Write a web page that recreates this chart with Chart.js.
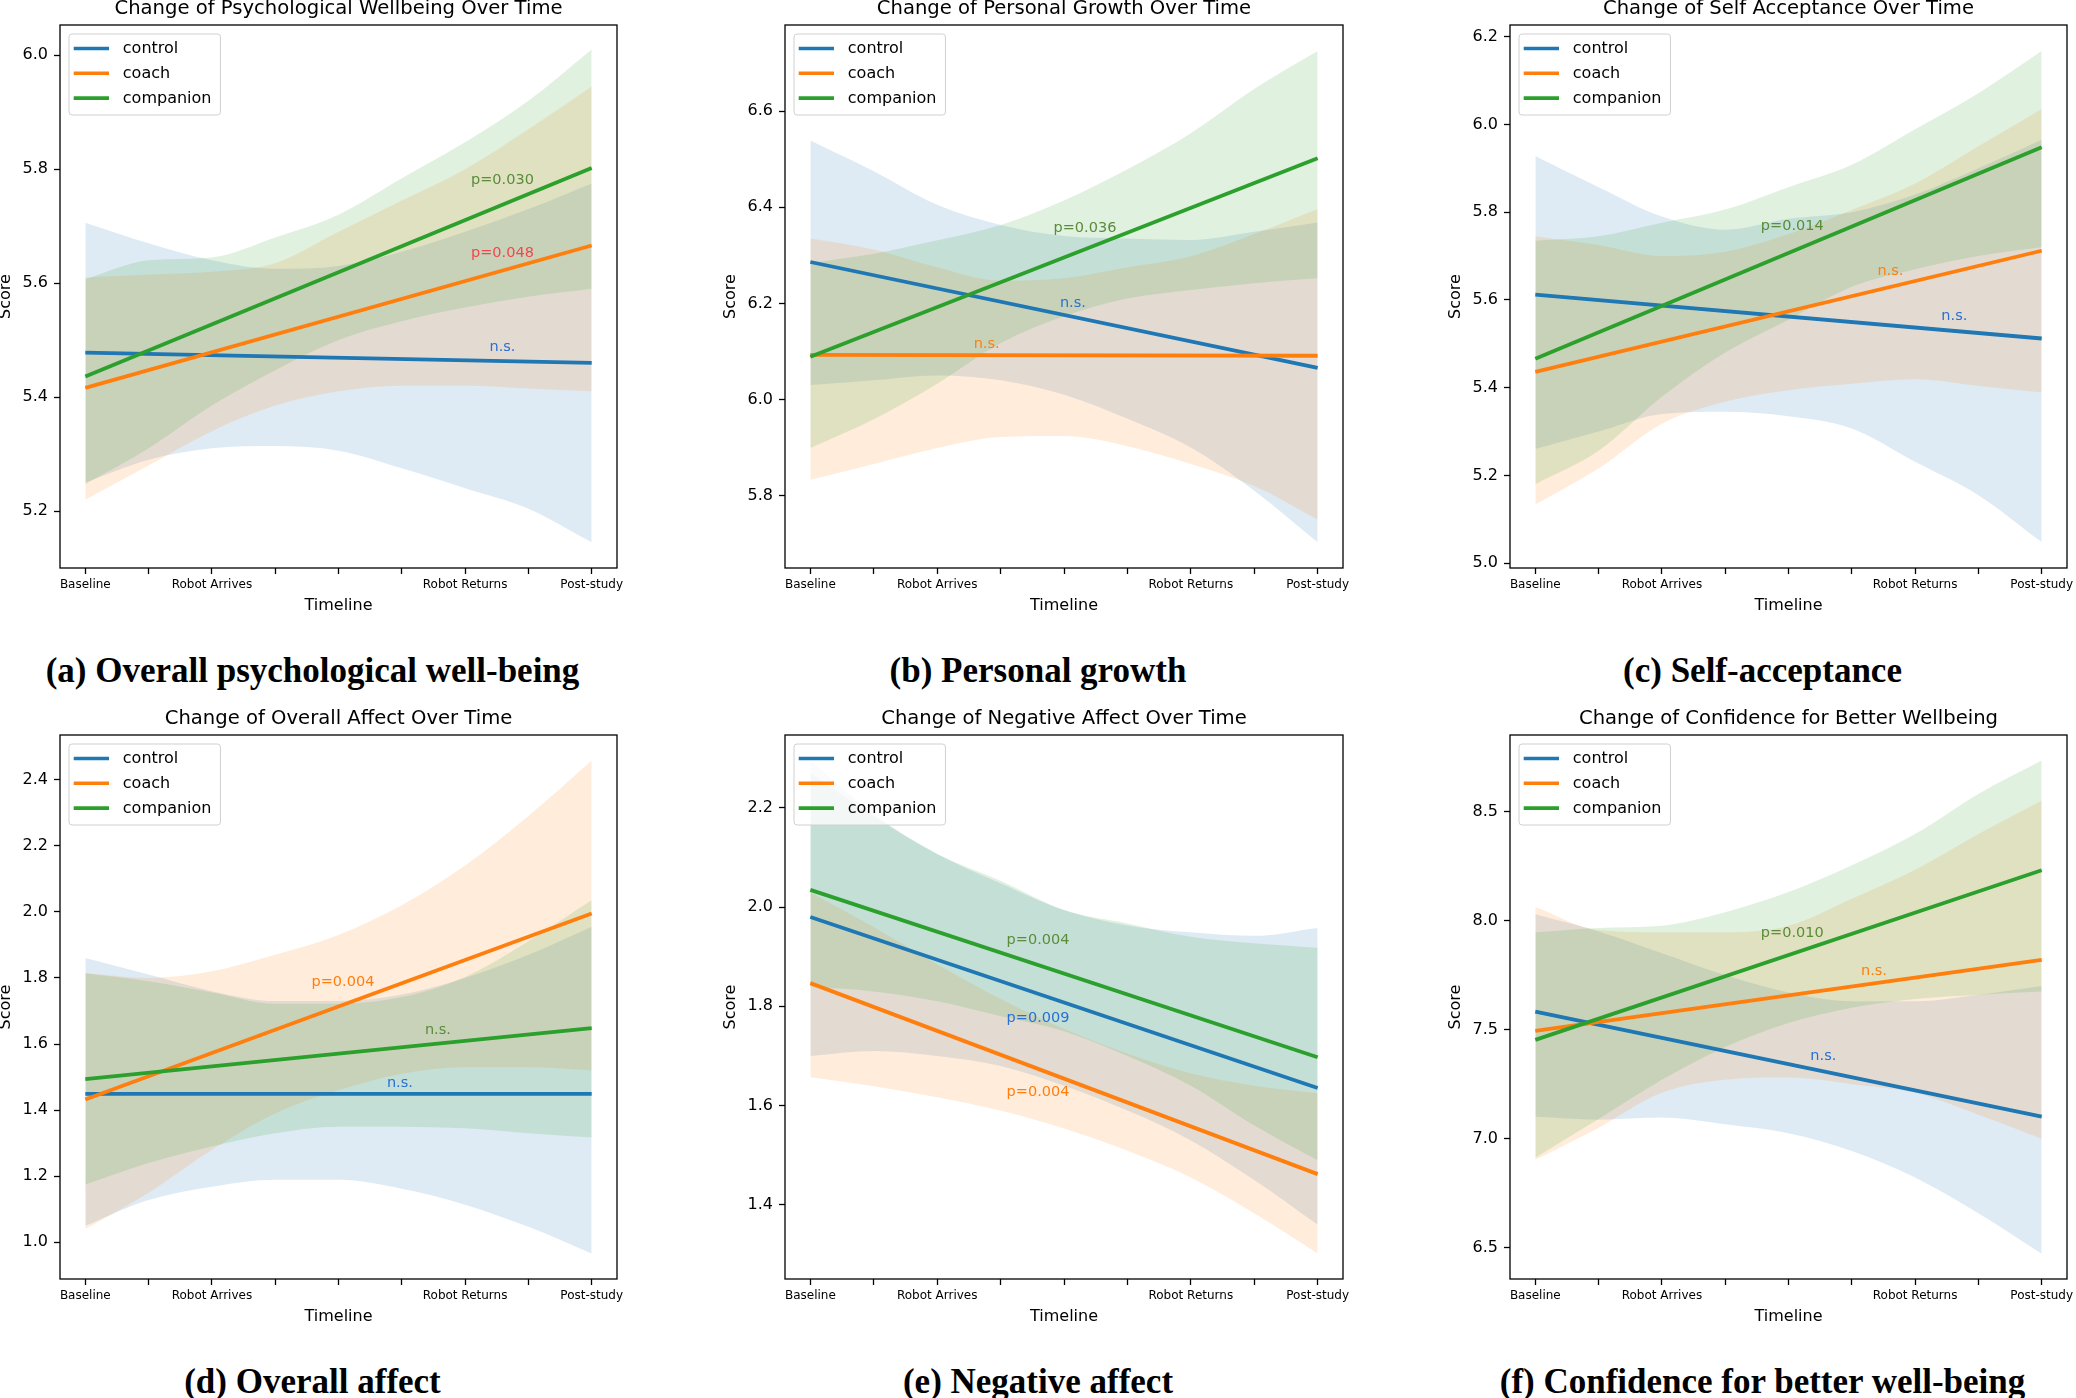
<!DOCTYPE html>
<html>
<head>
<meta charset="utf-8">
<script src="https://cdn.jsdelivr.net/npm/chart.js@4.4.1/dist/chart.umd.min.js"></script>
<style>
  html, body { margin: 0; padding: 0; background: #fff; }
  #page { position: relative; width: 2076px; height: 1398px; overflow: hidden; background: #fff; }
  #page canvas { position: absolute; }
  .caption {
    position: absolute; width: 800px; text-align: center; white-space: nowrap;
    font-family: 'Liberation Serif', 'Times New Roman', serif; font-weight: bold;
    font-size: 35px; line-height: 35px; color: #000;
  }
</style>
</head>
<body>
<div id="page"></div>
<script>
// shared axis stuff
const timepoints = [0, 1, 2, 3, 4, 5, 6, 7, 8];
const lineX = [0, 8];
const xTickLabels = ['Baseline', '', 'Robot Arrives', '', '', '', 'Robot Returns', '', 'Post-study'];
const groups = ['control', 'coach', 'companion'];

// (a) psychological wellbeing
const aYRange = [5.100, 6.053];
const aYTicks = [5.2, 5.4, 5.6, 5.8, 6.0];
const aControlLine = [5.478, 5.460];
const aCoachLine = [5.416, 5.666];
const aCompanionLine = [5.436, 5.802];
const aControlHi = [5.706, 5.67, 5.64, 5.625, 5.63, 5.655, 5.69, 5.73, 5.775];
const aControlLo = [5.25, 5.29, 5.31, 5.314, 5.306, 5.275, 5.24, 5.204, 5.145];
const aCoachHi = [5.61, 5.615, 5.62, 5.635, 5.69, 5.745, 5.80, 5.87, 5.945];
const aCoachLo = [5.22, 5.28, 5.34, 5.385, 5.41, 5.42, 5.42, 5.415, 5.41];
const aCompanionHi = [5.607, 5.64, 5.645, 5.68, 5.72, 5.784, 5.847, 5.92, 6.01];
const aCompanionLo = [5.247, 5.31, 5.385, 5.447, 5.50, 5.533, 5.557, 5.576, 5.59];
const aNotes = [['p=0.030', 6.59, 5.780, 'green'], ['p=0.048', 6.59, 5.653, 'red'], ['n.s.', 6.59, 5.488, 'blue']];

// (b) personal growth
const bYRange = [5.6495, 6.779];
const bYTicks = [5.8, 6.0, 6.2, 6.4, 6.6];
const bControlLine = [6.286, 6.066];
const bCoachLine = [6.093, 6.091];
const bCompanionLine = [6.089, 6.502];
const bControlHi = [6.539, 6.475, 6.405, 6.363, 6.34, 6.335, 6.332, 6.349, 6.368];
const bControlLo = [6.03, 6.04, 6.05, 6.04, 6.01, 5.96, 5.90, 5.81, 5.703];
const bCoachHi = [6.335, 6.312, 6.275, 6.247, 6.252, 6.275, 6.298, 6.344, 6.396];
const bCoachLo = [5.833, 5.866, 5.899, 5.922, 5.924, 5.903, 5.866, 5.82, 5.75];
const bCompanionHi = [6.284, 6.303, 6.331, 6.363, 6.414, 6.479, 6.554, 6.646, 6.725];
const bCompanionLo = [5.899, 5.959, 6.033, 6.117, 6.173, 6.21, 6.228, 6.242, 6.252];
const bNotes = [['p=0.036', 4.33, 6.357, 'green'], ['n.s.', 4.14, 6.200, 'blue'], ['n.s.', 2.78, 6.115, 'orange']];

// (c) self acceptance
const cYRange = [4.989, 6.2265];
const cYTicks = [5.0, 5.2, 5.4, 5.6, 5.8, 6.0, 6.2];
const cControlLine = [5.612, 5.512];
const cCoachLine = [5.436, 5.712];
const cCompanionLine = [5.466, 5.948];
const cControlHi = [5.928, 5.857, 5.79, 5.76, 5.785, 5.80, 5.84, 5.90, 5.965];
const cControlLo = [5.26, 5.30, 5.34, 5.345, 5.335, 5.307, 5.231, 5.155, 5.048];
const cCoachHi = [5.745, 5.725, 5.70, 5.71, 5.75, 5.805, 5.865, 5.95, 6.035];
const cCoachLo = [5.134, 5.216, 5.318, 5.368, 5.394, 5.409, 5.419, 5.404, 5.389];
const cCompanionHi = [5.735, 5.745, 5.776, 5.806, 5.857, 5.908, 5.989, 6.071, 6.167];
const cCompanionLo = [5.18, 5.256, 5.379, 5.48, 5.555, 5.63, 5.67, 5.70, 5.72];
const cNotes = [['p=0.014', 4.06, 5.768, 'green'], ['n.s.', 5.61, 5.666, 'orange'], ['n.s.', 6.62, 5.563, 'blue']];

// (d) overall affect
const dYRange = [0.889, 2.535];
const dYTicks = [1.0, 1.2, 1.4, 1.6, 1.8, 2.0, 2.2, 2.4];
const dControlLine = [1.449, 1.449];
const dCoachLine = [1.432, 1.995];
const dCompanionLine = [1.494, 1.648];
const dControlHi = [1.86, 1.81, 1.76, 1.73, 1.73, 1.75, 1.80, 1.87, 1.955];
const dControlLo = [1.05, 1.128, 1.168, 1.189, 1.189, 1.162, 1.114, 1.047, 0.966];
const dCoachHi = [1.815, 1.80, 1.82, 1.87, 1.93, 2.02, 2.14, 2.29, 2.458];
const dCoachLo = [1.04, 1.15, 1.28, 1.39, 1.46, 1.51, 1.53, 1.53, 1.52];
const dCompanionHi = [1.814, 1.79, 1.756, 1.722, 1.722, 1.742, 1.803, 1.911, 2.035];
const dCompanionLo = [1.175, 1.24, 1.29, 1.33, 1.35, 1.35, 1.345, 1.33, 1.317];
const dNotes = [['p=0.004', 4.07, 1.787, 'orange'], ['n.s.', 5.57, 1.641, 'green'], ['n.s.', 4.97, 1.482, 'blue']];

// (e) negative affect
const eYRange = [1.2508, 2.3465];
const eYTicks = [1.4, 1.6, 1.8, 2.0, 2.2];
const eControlLine = [1.980, 1.6355];
const eCoachLine = [1.8467, 1.462];
const eCompanionLine = [2.0346, 1.6975];
const eControlHi = [2.295, 2.187, 2.107, 2.048, 1.994, 1.963, 1.949, 1.942, 1.958];
const eControlLo = [1.70, 1.71, 1.70, 1.68, 1.64, 1.59, 1.53, 1.45, 1.36];
const eCoachHi = [2.03, 1.96, 1.885, 1.815, 1.755, 1.705, 1.665, 1.64, 1.625];
const eCoachLo = [1.657, 1.639, 1.617, 1.59, 1.554, 1.509, 1.455, 1.383, 1.302];
const eCompanionHi = [2.27, 2.183, 2.107, 2.053, 1.994, 1.967, 1.94, 1.927, 1.918];
const eCompanionLo = [1.84, 1.83, 1.81, 1.78, 1.75, 1.70, 1.64, 1.56, 1.49];
const eNotes = [['p=0.004', 3.59, 1.934, 'green'], ['p=0.009', 3.59, 1.777, 'blue'], ['p=0.004', 3.59, 1.626, 'orange']];

// (f) confidence
const fYRange = [6.357, 8.85];
const fYTicks = [6.5, 7.0, 7.5, 8.0, 8.5];
const fControlLine = [7.582, 7.101];
const fCoachLine = [7.494, 7.819];
const fCompanionLine = [7.453, 8.230];
const fControlHi = [8.028, 7.95, 7.85, 7.75, 7.67, 7.63, 7.63, 7.66, 7.70];
const fControlLo = [7.10, 7.087, 7.097, 7.066, 7.025, 6.944, 6.822, 6.658, 6.473];
const fCoachHi = [8.062, 7.956, 7.946, 7.946, 7.976, 8.10, 8.232, 8.396, 8.549];
const fCoachLo = [6.903, 7.05, 7.21, 7.27, 7.28, 7.25, 7.21, 7.11, 7.0];
const fCompanionHi = [7.946, 7.966, 7.976, 8.038, 8.13, 8.253, 8.396, 8.58, 8.733];
const fCompanionLo = [6.913, 7.09, 7.27, 7.42, 7.53, 7.60, 7.64, 7.66, 7.675];
const fNotes = [['p=0.010', 4.06, 7.942, 'green'], ['n.s.', 5.35, 7.768, 'orange'], ['n.s.', 4.55, 7.379, 'blue']];

const lineColors = ['#1f77b4', '#ff7f0e', '#2ca02c'];
const bandColors = ['rgba(31,119,180,0.15)', 'rgba(255,127,14,0.15)', 'rgba(44,160,44,0.15)'];
const noteColors = { blue: '#2a6fd4', orange: '#ff7f0e', green: '#5a8c3a', red: '#f2474b' };
const FONT = 'DejaVu Sans';

// box = axes rect in page px [left, top, right, bottom]
const panels = [
  { title: 'Change of Psychological Wellbeing Over Time', caption: '(a) Overall psychological well-being',
    box: [60, 25, 617, 568], yRange: aYRange, yTicks: aYTicks,
    lines: [aControlLine, aCoachLine, aCompanionLine], hi: [aControlHi, aCoachHi, aCompanionHi],
    lo: [aControlLo, aCoachLo, aCompanionLo], notes: aNotes },
  { title: 'Change of Personal Growth Over Time', caption: '(b) Personal growth',
    box: [785, 25, 1343, 568], yRange: bYRange, yTicks: bYTicks,
    lines: [bControlLine, bCoachLine, bCompanionLine], hi: [bControlHi, bCoachHi, bCompanionHi],
    lo: [bControlLo, bCoachLo, bCompanionLo], notes: bNotes },
  { title: 'Change of Self Acceptance Over Time', caption: '(c) Self-acceptance',
    box: [1510, 25, 2067, 568], yRange: cYRange, yTicks: cYTicks,
    lines: [cControlLine, cCoachLine, cCompanionLine], hi: [cControlHi, cCoachHi, cCompanionHi],
    lo: [cControlLo, cCoachLo, cCompanionLo], notes: cNotes },
  { title: 'Change of Overall Affect Over Time', caption: '(d) Overall affect',
    box: [60, 735, 617, 1279], yRange: dYRange, yTicks: dYTicks,
    lines: [dControlLine, dCoachLine, dCompanionLine], hi: [dControlHi, dCoachHi, dCompanionHi],
    lo: [dControlLo, dCoachLo, dCompanionLo], notes: dNotes },
  { title: 'Change of Negative Affect Over Time', caption: '(e) Negative affect',
    box: [785, 735, 1343, 1279], yRange: eYRange, yTicks: eYTicks,
    lines: [eControlLine, eCoachLine, eCompanionLine], hi: [eControlHi, eCoachHi, eCompanionHi],
    lo: [eControlLo, eCoachLo, eCompanionLo], notes: eNotes },
  { title: 'Change of Confidence for Better Wellbeing', caption: '(f) Confidence for better well-being',
    box: [1510, 735, 2067, 1279], yRange: fYRange, yTicks: fYTicks,
    lines: [fControlLine, fCoachLine, fCompanionLine], hi: [fControlHi, fCoachHi, fCompanionHi],
    lo: [fControlLo, fCoachLo, fCompanionLo], notes: fNotes },
];

const toPoints = (xs, ys) => xs.map((x, i) => ({ x: x, y: ys[i] }));

// spines on all four sides, like matplotlib
const framePlugin = {
  id: 'frame',
  afterDatasetsDraw(chart) {
    const { ctx, chartArea: a } = chart;
    ctx.save();
    ctx.strokeStyle = '#000';
    ctx.lineWidth = 1.3;
    ctx.strokeRect(a.left, a.top, a.right - a.left, a.bottom - a.top);
    ctx.restore();
  }
};

function notesPlugin(notes) {
  return {
    id: 'notes',
    afterDatasetsDraw(chart) {
      const { ctx, scales } = chart;
      ctx.save();
      ctx.font = '14.5px "' + FONT + '"';
      ctx.textAlign = 'center';
      ctx.textBaseline = 'middle';
      notes.forEach(n => {
        ctx.fillStyle = noteColors[n[3]];
        ctx.fillText(n[0], scales.x.getPixelForValue(n[1]), scales.y.getPixelForValue(n[2]));
      });
      ctx.restore();
    }
  };
}

// legend box inside the axes, upper left
const legendPlugin = {
  id: 'mplLegend',
  afterDraw(chart) {
    const { ctx, chartArea: a } = chart;
    const items = chart.data.datasets.filter(d => d.kind === 'line');
    ctx.save();
    ctx.font = '16px "' + FONT + '"';
    const textX = 53.8;
    let maxW = 0;
    items.forEach(d => { maxW = Math.max(maxW, ctx.measureText(d.label).width); });
    const x0 = a.left + 9, y0 = a.top + 9;
    const w = textX + maxW + 9, h = 81;
    ctx.beginPath();
    ctx.roundRect(x0, y0, w, h, 3);
    ctx.fillStyle = 'rgba(255,255,255,0.8)';
    ctx.fill();
    ctx.strokeStyle = '#d0d0d0';
    ctx.lineWidth = 1;
    ctx.stroke();
    items.forEach((d, i) => {
      const y = y0 + 14.5 + i * 24.8;
      ctx.beginPath();
      ctx.moveTo(x0 + 4.7, y);
      ctx.lineTo(x0 + 40, y);
      ctx.strokeStyle = d.borderColor;
      ctx.lineWidth = 3.6;
      ctx.stroke();
      ctx.fillStyle = '#000';
      ctx.textBaseline = 'middle';
      ctx.fillText(d.label, x0 + textX, y + 0.5);
    });
    ctx.restore();
  }
};

const page = document.getElementById('page');

function zeroPad(s) {
  s.paddingLeft = 0; s.paddingRight = 0; s.paddingTop = 0; s.paddingBottom = 0;
}

panels.forEach(p => {
  const [L, T, R, B] = p.box;
  const cv = document.createElement('canvas');
  cv.width = (R - L) + 124;
  cv.height = (B - T) + 72;
  cv.style.left = (L - 62) + 'px';
  cv.style.top = (T - 26) + 'px';
  page.appendChild(cv);

  const datasets = [];
  // lines first so they sit on top (lower order = drawn later)
  groups.forEach((g, i) => {
    datasets.push({
      kind: 'line', label: g, data: toPoints(lineX, p.lines[i]),
      borderColor: lineColors[i], borderWidth: 3.8, pointRadius: 0, fill: false,
      order: 3 - i
    });
  });
  groups.forEach((g, i) => {
    datasets.push({
      kind: 'band', label: g + ' upper', data: toPoints(timepoints, p.hi[i]),
      borderColor: 'transparent', borderWidth: 0, pointRadius: 0, fill: false,
      cubicInterpolationMode: 'monotone', order: 6 - i
    });
    datasets.push({
      kind: 'band', label: g + ' lower', data: toPoints(timepoints, p.lo[i]),
      borderColor: 'transparent', borderWidth: 0, pointRadius: 0,
      fill: '-1', backgroundColor: bandColors[i],
      cubicInterpolationMode: 'monotone', order: 6 - i
    });
  });

  const tickGrid = { display: true, drawOnChartArea: false, drawTicks: true, tickLength: 6, tickWidth: 1.3, tickColor: '#000' };

  new Chart(cv.getContext('2d'), {
    type: 'line',
    data: { datasets: datasets },
    options: {
      responsive: false,
      devicePixelRatio: 1,
      animation: false,
      events: [],
      layout: { padding: { left: 0, top: 0, right: 62, bottom: 0 } },
      plugins: {
        legend: { display: false },
        tooltip: { enabled: false },
        title: {
          display: true, text: p.title, color: '#000', fullSize: false,
          font: { family: FONT, size: 19.6, weight: 'normal', lineHeight: 1 },
          padding: { top: 0, bottom: 6.4 }
        }
      },
      scales: {
        x: {
          type: 'linear', min: -0.4, max: 8.4, bounds: 'data',
          afterBuildTicks: s => { s.ticks = timepoints.map(v => ({ value: v })); },
          afterFit: s => { s.height = 46; zeroPad(s); },
          grid: tickGrid,
          border: { display: false },
          ticks: {
            color: '#000', font: { family: FONT, size: 12 }, padding: 4,
            autoSkip: false, maxRotation: 0,
            callback: v => xTickLabels[v] || ''
          },
          title: {
            display: true, text: 'Timeline', color: '#000',
            font: { family: FONT, size: 16, lineHeight: 1 }, padding: { top: 0, bottom: 0 }
          }
        },
        y: {
          type: 'linear', min: p.yRange[0], max: p.yRange[1], bounds: 'data',
          afterBuildTicks: s => { s.ticks = p.yTicks.map(v => ({ value: v })); },
          afterFit: s => { s.width = 62; zeroPad(s); },
          grid: tickGrid,
          border: { display: false },
          ticks: {
            color: '#000', font: { family: FONT, size: 16 }, padding: 6,
            autoSkip: false, callback: v => Number(v).toFixed(1)
          },
          title: {
            display: true, text: 'Score', color: '#000',
            font: { family: FONT, size: 16, lineHeight: 1 }, padding: { top: 0, bottom: 0 }
          }
        }
      }
    },
    plugins: [framePlugin, notesPlugin(p.notes), legendPlugin]
  });

  // sub-figure caption
  const cap = document.createElement('div');
  cap.className = 'caption';
  cap.textContent = p.caption;
  const cx = (L + R) / 2 - 26;
  const baseline = T < 300 ? 682 : 1393;
  cap.style.left = (cx - 400) + 'px';
  cap.style.top = (baseline - 29.3) + 'px';
  page.appendChild(cap);
});
</script>
</body>
</html>
